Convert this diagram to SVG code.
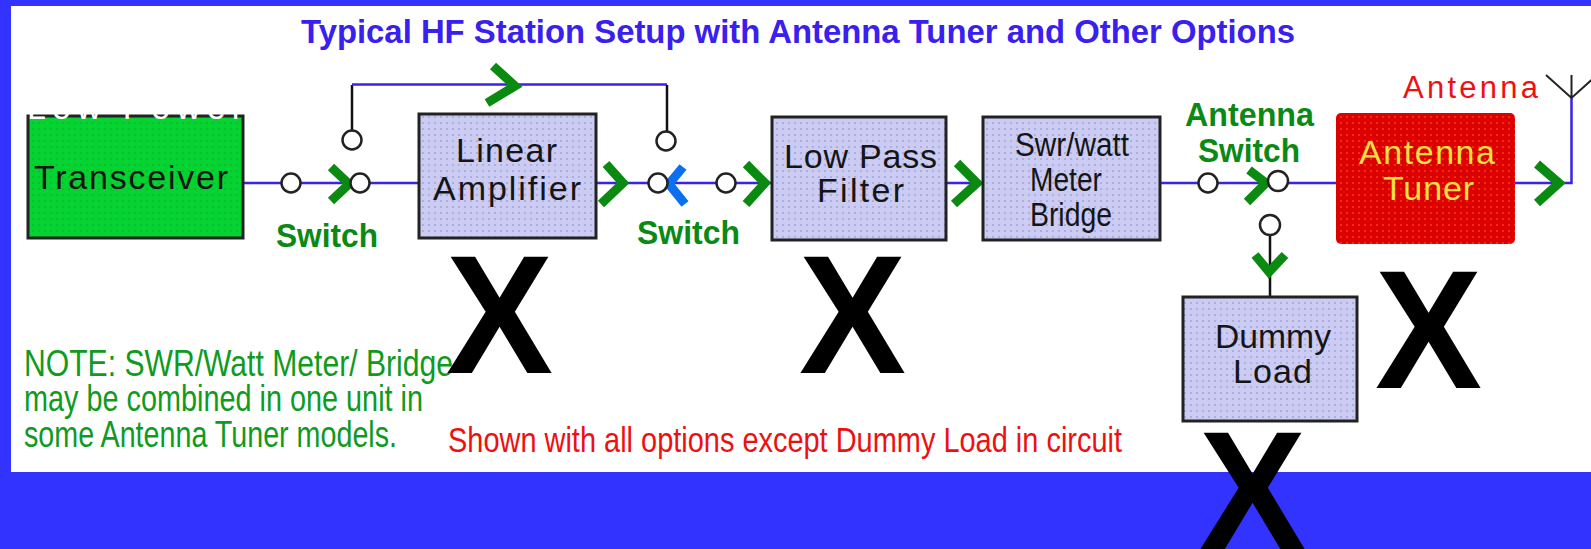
<svg xmlns="http://www.w3.org/2000/svg" width="1591" height="549" viewBox="0 0 1591 549">
<style>
text{font-family:"Liberation Sans",Arial,sans-serif}
.t{font-size:34px;fill:#151515}
.b{font-weight:bold;fill:#0a8a14;font-size:33px}
.n{font-size:36px;fill:#0f9a20}
.x{font-size:168px;font-weight:bold;fill:#000}
.box{stroke:#222;stroke-width:3}
.w{fill:none;stroke:#3a22e8;stroke-width:2.500}
.k{fill:none;stroke:#111;stroke-width:2.500}
.c{fill:#fff;stroke:#222;stroke-width:2.500}
.a{fill:none;stroke:#0a8a10;stroke-width:9}
</style>
<defs>
<pattern id="lav" width="6" height="6" patternUnits="userSpaceOnUse"><rect width="6" height="6" fill="#cbcbf3"/><circle cx="3" cy="3" r="1.1" fill="#a3a8d6"/></pattern>
<pattern id="grn" width="6" height="6" patternUnits="userSpaceOnUse"><rect width="6" height="6" fill="#04d332"/><circle cx="3" cy="3" r="1.2" fill="#0cc02c"/></pattern>
<pattern id="red" width="6" height="6" patternUnits="userSpaceOnUse"><rect width="6" height="6" fill="#dc0000"/><circle cx="3" cy="3" r="1.1" fill="#f03a10"/></pattern>
</defs>
<rect width="1591" height="549" fill="#3333ff"/>
<rect x="11" y="6" width="1580" height="466" fill="#fff"/>
<text id="title" x="301" y="43" font-size="33" font-weight="bold" fill="#3a20ee" textLength="994" lengthAdjust="spacingAndGlyphs">Typical HF Station Setup with Antenna Tuner and Other Options</text>
<g id="connectors">
<path class="w" d="M243 183H419"/>
<path class="k" d="M352 130V85"/><path class="w" d="M352 84.500H667"/><path class="k" d="M667 85V131"/>
<path class="w" d="M596 183H772"/>
<path class="w" d="M946 183H983"/>
<path class="w" d="M1160 183H1336"/>
<path class="k" d="M1270 235V297"/>
<path class="w" d="M1515 183H1571.500V98"/>
<path d="M1546 75L1571.500 98L1597 75M1571.500 98V75" fill="none" stroke="#222" stroke-width="2"/>
<path class="a" d="M331 167L349 184L331 201"/>
<path class="a" d="M493 66L515 86L487 103"/>
<path class="a" d="M606 164L623 183L601 204"/>
<path class="a" style="stroke:#0a70f0" d="M683 167L669 184L685 204"/>
<path class="a" d="M746 164L765 183L746 204"/>
<path class="a" d="M957 163L977 183L954 204"/>
<path class="a" d="M1249 170L1266 183L1247 202"/>
<path class="a" d="M1537 164L1559 183L1537 203"/>
<path class="a" d="M1255 255L1269 272L1285 255"/>
</g>
<g id="contacts">
<circle class="c" cx="291" cy="183" r="9.500"/>
<circle class="c" cx="360" cy="183" r="9.500"/>
<circle class="c" cx="352" cy="140" r="9.500"/>
<circle class="c" cx="666" cy="141" r="9.500"/>
<circle class="c" cx="658" cy="183" r="9.500"/>
<circle class="c" cx="726" cy="183" r="9.500"/>
<circle class="c" cx="1208" cy="183" r="9.500"/>
<circle class="c" cx="1278" cy="181" r="10"/>
<circle class="c" cx="1270" cy="225" r="10"/>
</g>
<g id="transceiver">
<rect x="28" y="116" width="215" height="122" fill="url(#grn)" stroke="#222" stroke-width="3"/>
<text x="27" y="119" font-size="34" fill="#fff" textLength="216" lengthAdjust="spacing">Low Power</text>
<text class="t" x="34" y="189" textLength="194" lengthAdjust="spacing">Transceiver</text>
</g>
<g id="linear-amplifier">
<rect class="box" x="419" y="114" width="177" height="124" fill="url(#lav)"/>
<text class="t" x="456" y="162" textLength="101" lengthAdjust="spacing">Linear</text>
<text class="t" x="433" y="200" textLength="148" lengthAdjust="spacing">Amplifier</text>
</g>
<g id="low-pass-filter">
<rect class="box" x="772" y="117" width="174" height="123" fill="url(#lav)"/>
<text class="t" x="784" y="168" textLength="153" lengthAdjust="spacing">Low Pass</text>
<text class="t" x="817" y="202" textLength="87" lengthAdjust="spacing">Filter</text>
</g>
<g id="swr-meter">
<rect class="box" x="983" y="117" width="177" height="123" fill="url(#lav)"/>
<text class="t" x="1015" y="156" textLength="114" lengthAdjust="spacingAndGlyphs">Swr/watt</text>
<text class="t" x="1030" y="191" textLength="72" lengthAdjust="spacingAndGlyphs">Meter</text>
<text class="t" x="1030" y="226" textLength="82" lengthAdjust="spacingAndGlyphs">Bridge</text>
</g>
<g id="antenna-tuner">
<rect x="1336" y="113" width="179" height="131" rx="5" fill="url(#red)"/>
<text x="1359" y="164" font-size="34" fill="#f2e040" textLength="136" lengthAdjust="spacing">Antenna</text>
<text x="1383" y="200" font-size="34" fill="#f2e040" textLength="91" lengthAdjust="spacing">Tuner</text>
</g>
<g id="dummy-load">
<rect class="box" x="1183" y="297" width="174" height="124" fill="url(#lav)"/>
<text class="t" x="1215" y="348" textLength="116" lengthAdjust="spacingAndGlyphs">Dummy</text>
<text class="t" x="1233" y="383" textLength="79" lengthAdjust="spacing">Load</text>
</g>
<g id="labels">
<text class="b" x="276" y="247" textLength="102" lengthAdjust="spacingAndGlyphs">Switch</text>
<text class="b" x="637" y="244" textLength="103" lengthAdjust="spacingAndGlyphs">Switch</text>
<text class="b" x="1185" y="126" textLength="129" lengthAdjust="spacingAndGlyphs">Antenna</text>
<text class="b" x="1198" y="162" textLength="102" lengthAdjust="spacingAndGlyphs">Switch</text>
<text x="1403" y="98" font-size="31" fill="#f01010" textLength="135" lengthAdjust="spacing">Antenna</text>
<text class="n" x="24" y="376" textLength="429" lengthAdjust="spacingAndGlyphs">NOTE: SWR/Watt Meter/ Bridge</text>
<text class="n" x="24" y="411" textLength="399" lengthAdjust="spacingAndGlyphs">may be combined in one unit in</text>
<text class="n" x="24" y="447" textLength="373" lengthAdjust="spacingAndGlyphs">some Antenna Tuner models.</text>
<text x="448" y="452" font-size="35" fill="#ee1010" textLength="674" lengthAdjust="spacingAndGlyphs">Shown with all options except Dummy Load in circuit</text>
</g>
<g id="marks">
<text class="x" x="446" y="373" textLength="107" lengthAdjust="spacingAndGlyphs">X</text>
<text class="x" x="799" y="373" textLength="107" lengthAdjust="spacingAndGlyphs">X</text>
<text class="x" x="1375" y="388" textLength="107" lengthAdjust="spacingAndGlyphs">X</text>
<text class="x" x="1199" y="549" textLength="107" lengthAdjust="spacingAndGlyphs">X</text>
</g>
</svg>
